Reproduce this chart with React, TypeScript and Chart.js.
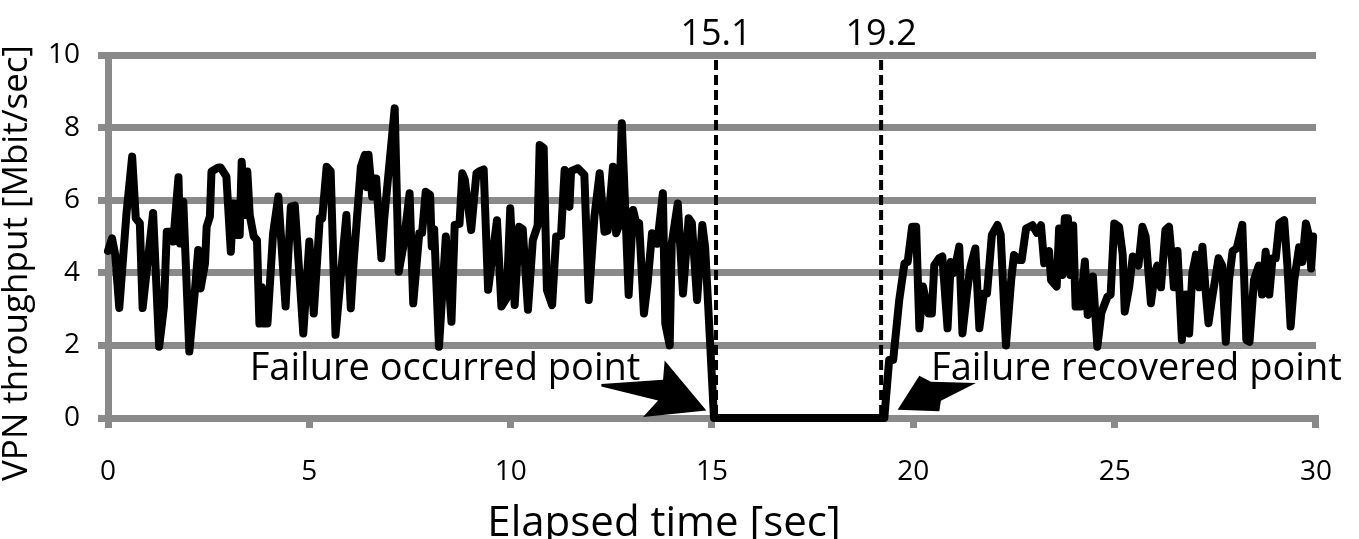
import React, { useEffect, useRef } from "react";
import { Chart, registerables } from "chart.js";

Chart.register(...registerables);

// Elapsed time [sec] of each sample (turning points)
const timeSec = [
  0.0, 0.1, 0.18, 0.28, 0.46, 0.6, 0.69, 0.79, 0.86, 1.12, 1.27, 1.39, 1.46, 1.58, 1.62, 1.75, 1.79, 1.87,
  2.02, 2.16, 2.24, 2.3, 2.41, 2.45, 2.53, 2.57, 2.74, 2.8, 2.94, 3.05, 3.11, 3.19, 3.23, 3.27, 3.32, 3.4,
  3.46, 3.52, 3.62, 3.7, 3.76, 3.82, 3.88, 3.96, 4.1, 4.23, 4.41, 4.54, 4.64, 4.85, 5.0, 5.11, 5.26, 5.32,
  5.43, 5.53, 5.65, 5.78, 5.92, 6.03, 6.1, 6.28, 6.38, 6.43, 6.47, 6.56, 6.6, 6.66, 6.79, 6.86, 7.12, 7.22,
  7.33, 7.49, 7.58, 7.73, 7.8, 7.89, 8.0, 8.04, 8.1, 8.22, 8.39, 8.53, 8.61, 8.73, 8.8, 8.86, 9.02, 9.15,
  9.23, 9.33, 9.44, 9.66, 9.77, 9.9, 9.99, 10.1, 10.21, 10.3, 10.43, 10.55, 10.67, 10.72, 10.82, 10.9,
  11.03, 11.13, 11.25, 11.34, 11.4, 11.46, 11.5, 11.67, 11.83, 11.94, 12.08, 12.21, 12.33, 12.41, 12.54,
  12.62, 12.68, 12.76, 12.87, 12.93, 13.04, 13.11, 13.19, 13.31, 13.4, 13.51, 13.56, 13.64, 13.78, 13.84,
  13.95, 14.0, 14.15, 14.28, 14.42, 14.5, 14.63, 14.76, 14.83, 15.05,
  19.28, 19.4, 19.5, 19.65, 19.78, 19.86, 19.97, 20.07, 20.15, 20.24, 20.38, 20.46, 20.52, 20.64, 20.72,
  20.85, 20.93, 21.01, 21.14, 21.22, 21.34, 21.42, 21.54, 21.64, 21.75, 21.83, 21.95, 22.09, 22.17, 22.3,
  22.43, 22.5, 22.62, 22.69, 22.8, 22.96, 23.07, 23.17, 23.25, 23.37, 23.42, 23.56, 23.62, 23.7, 23.76,
  23.84, 23.9, 23.97, 24.03, 24.15, 24.26, 24.33, 24.46, 24.57, 24.67, 24.82, 24.9, 24.99, 25.11, 25.2,
  25.25, 25.36, 25.45, 25.59, 25.69, 25.77, 25.9, 26.0, 26.06, 26.15, 26.26, 26.35, 26.43, 26.47, 26.56,
  26.67, 26.77, 26.85, 26.93, 27.02, 27.1, 27.18, 27.26, 27.33, 27.42, 27.58, 27.67, 27.76, 27.84, 27.93,
  28.03, 28.17, 28.27, 28.35, 28.46, 28.58, 28.66, 28.75, 28.84, 28.92, 29.0, 29.09, 29.21, 29.29, 29.37,
  29.46, 29.58, 29.66, 29.75, 29.83, 29.88, 29.93,
];

// VPN throughput [Mbit/sec]
const throughput = [
  4.6, 4.95, 4.5, 3.03, 5.65, 7.2, 5.5, 5.37, 3.03, 5.65, 1.96, 3.07, 5.13, 5.13, 4.86, 6.63, 4.81, 5.96,
  1.83, 3.53, 4.63, 3.57, 4.26, 5.27, 5.55, 6.79, 6.9, 6.9, 6.65, 4.58, 5.91, 5.04, 5.91, 5.04, 7.06, 5.59,
  6.79, 5.59, 5.0, 4.9, 2.6, 3.6, 2.6, 2.6, 5.09, 6.1, 3.07, 5.82, 5.85, 2.33, 4.86, 2.88, 5.5, 5.5,
  6.92, 6.8, 2.29, 3.89, 5.59, 3.02, 4.3, 6.92, 7.25, 6.36, 7.25, 6.1, 6.6, 6.6, 4.4, 5.5, 8.53, 4.03,
  4.7, 6.19, 3.16, 5.09, 5.1, 6.23, 6.15, 4.73, 5.2, 1.96, 5.0, 2.65, 5.32, 5.35, 6.74, 6.57, 5.18, 6.74,
  6.8, 6.85, 3.53, 5.45, 3.07, 3.3, 5.78, 3.11, 5.27, 5.2, 2.98, 4.9, 5.3, 7.52, 7.44, 3.53,
  3.11, 5.0, 5.02, 6.83, 5.9, 5.82, 6.8, 6.88, 6.7, 3.25, 5.55, 6.74, 5.13, 5.16, 6.92,
  5.09, 5.27, 8.12, 5.09, 3.39, 5.73, 5.41, 5.37, 2.88, 3.7, 5.09, 4.81, 4.8, 6.19, 2.6,
  2.0, 4.81, 5.91, 3.43, 5.5, 5.37, 3.25, 5.32, 4.7, 0.0,
  0.0, 1.6, 1.6, 3.25, 4.26, 4.3, 5.27, 5.27, 2.47, 3.62, 2.88, 2.88, 4.21, 4.4, 4.45,
  2.47, 4.3, 4.0, 4.72, 2.33, 3.53, 4.17, 4.67, 2.47, 3.43, 3.43, 5.04, 5.32, 5.05, 2.0,
  3.8, 4.49, 4.35, 4.35, 5.22, 5.31, 5.1, 5.31, 4.26, 4.6, 3.8, 3.62, 5.22, 3.94, 5.5,
  5.5, 3.94, 5.3, 3.07, 3.07, 4.31, 2.84, 3.9, 1.96, 2.9, 3.34, 3.4, 5.36, 5.27, 4.5,
  2.93, 3.6, 4.45, 4.2, 5.27, 5.0, 3.16, 4.0, 4.2, 3.6, 5.18, 5.27, 4.26, 3.6, 4.6,
  2.15, 3.4, 2.33, 4.0, 4.5, 3.6, 4.72, 3.5, 2.61, 3.3, 4.4, 4.2, 2.1, 3.8, 4.6,
  4.67, 5.32, 2.15, 2.1, 3.8, 4.2, 3.4, 4.58, 3.4, 4.4, 4.4, 5.36, 5.45, 4.2, 2.52,
  3.8, 4.7, 4.3, 5.36, 5.0, 4.12, 5.0,
];

const xTickValues = [0, 5, 10, 15, 20, 25, 30];
const yTickValues = [0, 2, 4, 6, 8, 10];
const eventTimes = [15.1, 19.2];
const eventLabels = ["15.1", "19.2"];
const noteTexts = ["Failure occurred point", "Failure recovered point"];
const xTitle = "Elapsed time [sec]";
const yTitle = "VPN throughput [Mbit/sec]";

const FONT = "'Open Sans', 'Noto Sans', sans-serif";
const GRID = "#8a8a8a";

const overlayPlugin = {
  id: "overlay",
  afterDatasetsDraw(chart: any) {
    const { ctx, chartArea } = chart;
    const xs = chart.scales.x;
    const ys = chart.scales.y;
    ctx.save();

    // dashed event lines + labels
    eventTimes.forEach((t, i) => {
      const px = xs.getPixelForValue(t);
      ctx.strokeStyle = "#000";
      ctx.lineWidth = 4;
      ctx.setLineDash([10, 5]);
      ctx.beginPath();
      ctx.moveTo(px, chartArea.top + 5);
      ctx.lineTo(px, chartArea.bottom);
      ctx.stroke();
      ctx.setLineDash([]);
      ctx.fillStyle = "#000";
      ctx.font = `36px ${FONT}`;
      ctx.textAlign = "center";
      ctx.textBaseline = "alphabetic";
      ctx.fillText(eventLabels[i], px, chartArea.top - 10);
    });

    // annotation texts
    ctx.font = `38px ${FONT}`;
    ctx.textAlign = "left";
    ctx.textBaseline = "alphabetic";
    ctx.fillStyle = "#000";
    ctx.fillText(noteTexts[0], xs.getPixelForValue(3.52), ys.getPixelForValue(1.05));
    ctx.fillText(noteTexts[1], xs.getPixelForValue(20.44), ys.getPixelForValue(1.05));

    // arrows
    const drawPoly = (tx: number, ty: number, pts: number[][]) => {
      ctx.beginPath();
      ctx.moveTo(tx + pts[0][0], ty + pts[0][1]);
      for (let k = 1; k < pts.length; k++) ctx.lineTo(tx + pts[k][0], ty + pts[k][1]);
      ctx.closePath();
      ctx.fillStyle = "#000";
      ctx.fill();
    };
    const lt = [xs.getPixelForValue(14.86), ys.getPixelForValue(0.21)];
    drawPoly(lt[0], lt[1], [
      [-105, -26.3],
      [-43.3, -30.7],
      [-41.7, -50],
      [0, 0],
      [-63.3, 6.7],
      [-48.3, -10],
      [-105, -24],
    ]);
    const rt = [xs.getPixelForValue(19.61), ys.getPixelForValue(0.23)];
    drawPoly(rt[0], rt[1], [
      [0, 0],
      [21.7, -34],
      [33.3, -28],
      [78.3, -26.7],
      [43.3, -9],
      [41.7, 1.7],
    ]);

    // axis titles
    ctx.fillStyle = "#000";
    ctx.font = `42px ${FONT}`;
    ctx.textAlign = "center";
    ctx.textBaseline = "alphabetic";
    ctx.fillText(xTitle, 664, 536);

    ctx.save();
    ctx.translate(27, 263);
    ctx.rotate(-Math.PI / 2);
    ctx.font = `35px ${FONT}`;
    ctx.textAlign = "center";
    ctx.fillText(yTitle, 0, 0);
    ctx.restore();

    ctx.restore();
  },
};

export default function App() {
  const canvasRef = useRef<HTMLCanvasElement | null>(null);

  useEffect(() => {
    const canvas = canvasRef.current;
    if (!canvas) return;
    const points = timeSec.map((t, i) => ({ x: t, y: throughput[i] }));
    const chart = new Chart(canvas, {
      type: "line",
      data: {
        datasets: [
          {
            data: points,
            borderColor: "#000",
            borderWidth: 8,
            pointRadius: 0,
            tension: 0,
            borderJoinStyle: "round",
            borderCapStyle: "round",
            clip: false,
          } as any,
        ],
      },
      options: {
        responsive: false,
        animation: false,
        devicePixelRatio: 1,
        layout: { padding: { left: 0, top: 55, right: 42, bottom: 0 } },
        plugins: { legend: { display: false }, tooltip: { enabled: false } },
        scales: {
          x: {
            type: "linear",
            min: 0,
            max: 30,
            afterFit: (s: any) => {
              s.height = 121;
            },
            afterBuildTicks: (s: any) => {
              s.ticks = xTickValues.map((v) => ({ value: v }));
            },
            ticks: {
              autoSkip: false,
              maxRotation: 0,
              color: "#000",
              padding: 27,
              font: { family: FONT, size: 28 },
            },
            grid: {
              drawOnChartArea: false,
              drawTicks: true,
              tickLength: 10,
              color: GRID,
              lineWidth: 7,
            },
            border: { display: true, color: GRID, width: 7 },
          },
          y: {
            type: "linear",
            min: 0,
            max: 10,
            afterFit: (s: any) => {
              s.width = 108;
            },
            afterBuildTicks: (s: any) => {
              s.ticks = yTickValues.map((v) => ({ value: v }));
            },
            ticks: {
              color: "#000",
              padding: 18,
              font: { family: FONT, size: 28 },
            },
            grid: {
              drawTicks: true,
              tickLength: 10,
              color: GRID,
              lineWidth: 7,
            },
            border: { display: true, color: GRID, width: 7 },
          },
        },
      },
      plugins: [overlayPlugin],
    });
    return () => chart.destroy();
  }, []);

  return (
    <div style={{ position: "fixed", left: 0, top: 0, width: 1359, height: 539, background: "#fff" }}>
      <canvas ref={canvasRef} width={1359} height={539} />
    </div>
  );
}
